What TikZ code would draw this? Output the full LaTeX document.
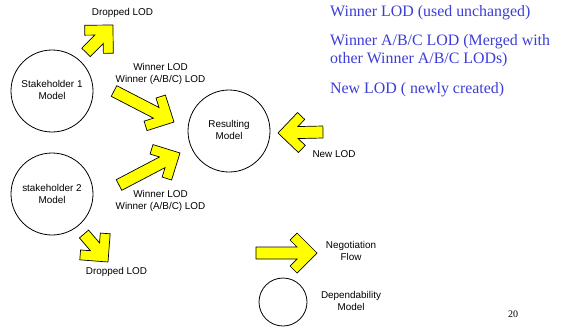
\documentclass[tikz,border=0pt]{standalone}
\usepackage{fontspec}
\setmainfont{Liberation Serif}
\setsansfont{Liberation Sans}
\usetikzlibrary{calc}
\definecolor{arrowyellow}{RGB}{255,255,0}
\definecolor{noteblue}{RGB}{60,60,215}
\tikzset{
  model/.style={draw=black, line width=0.8pt, circle, minimum size=82pt, inner sep=0pt},
  smallmodel/.style={draw=black, line width=0.8pt, circle, minimum size=48pt, inner sep=0pt},
  lbl/.style={font=\sffamily\fontsize{9.9}{12}\selectfont, align=center, inner sep=0pt},
  note/.style={font=\rmfamily\fontsize{15.9}{18}\selectfont, text=noteblue, align=left, inner sep=0pt},
  arrowbody/.style={draw=black, line width=0.7pt, fill=arrowyellow, line join=miter},
  pics/blockarrow/.style={code={
    \draw[arrowbody] (0,0) -- (-20,20) -- (-27,13) -- (-20,6) -- (-#1,6) -- (-#1,-6)
      -- (-20,-6) -- (-27,-13) -- (-20,-20) -- cycle;
  }}
}
\newcommand{\flowarrow}[2]{%
  \path let \p1=($(#2)-(#1)$), \n1={atan2(\y1,\x1)}, \n2={veclen(\x1,\y1)} in
    (#2) pic[rotate=\n1]{blockarrow=\n2};%
}
\begin{document}
\begin{tikzpicture}[x=1pt,y=-1pt]
\useasboundingbox (0,0) rectangle (564,327);

% models
\node[model] (s1) at (52,91) {};
\node[model] (s2) at (52,194) {};
\node[model] (res) at (229,131) {};
\node[smallmodel] (dep) at (283,302) {};

\node[lbl] (s1t) at (52,90.4) {Stakeholder 1\\Model};
\node[lbl] (s2t) at (52,194.4) {stakeholder 2\\Model};
\node[lbl] (rest) at (229,130.4) {Resulting\\Model};

% arrow end points
\coordinate (a1s) at (86,52.5);  \coordinate (a1t) at (113,25);
\coordinate (a2s) at (114,91);   \coordinate (a2t) at (174,122);
\coordinate (a3s) at (119,185);  \coordinate (a3t) at (180,153);
\coordinate (a4s) at (323,132);  \coordinate (a4t) at (278,133);
\coordinate (a5s) at (84,234);   \coordinate (a5t) at (108,262);
\coordinate (a6s) at (256,253);  \coordinate (a6t) at (317,253);

\flowarrow{a1s}{a1t}
\flowarrow{a2s}{a2t}
\flowarrow{a3s}{a3t}
\flowarrow{a4s}{a4t}
\flowarrow{a5s}{a5t}
\flowarrow{a6s}{a6t}

% labels
\node[lbl, anchor=base] (drop1) at (122.5,15) {Dropped LOD};
\node[lbl] (win1) at (160.5,73.5) {Winner LOD\\Winner (A/B/C) LOD};
\node[lbl] (win2) at (160.5,200.5) {Winner LOD\\Winner (A/B/C) LOD};
\node[lbl, anchor=base] (drop2) at (116.5,274) {Dropped LOD};
\node[lbl, anchor=base] (newlod) at (334,157) {New LOD};
\node[lbl] (neg) at (351,251.4) {Negotiation\\Flow};
\node[lbl] (dept) at (351,301.4) {Dependability\\Model};

% legend notes
\node[note, anchor=base west] (n1) at (330,16) {Winner LOD (used unchanged)};
\node[note, anchor=west] (n2) at (330,51) {Winner A/B/C LOD (Merged with\\other Winner A/B/C LODs)};
\node[note, anchor=base west] (n3) at (330,93) {New LOD ( newly created)};

\node[font=\rmfamily\fontsize{10}{12}\selectfont, anchor=base west, inner sep=0pt] (pg) at (508,317) {20};
\end{tikzpicture}
\end{document}
